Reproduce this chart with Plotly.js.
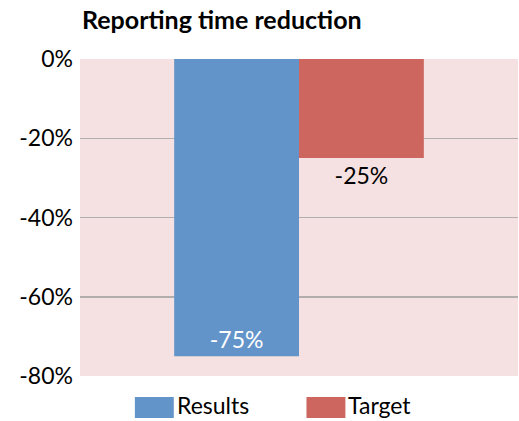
<!DOCTYPE html>
<html>
<head>
<meta charset="utf-8">
<script src="https://cdn.plot.ly/plotly-3.0.1.min.js"></script>
<style>
html,body{margin:0;padding:0;background:#fff;}
#chart{width:519px;height:421px;}
</style>
</head>
<body>
<div id="chart"></div>
<script>
const categories = ["Reporting time"];
const seriesNames = ["Results", "Target"];
const resultsValues = [-75];
const targetValues = [-25];
const yTickValues = [0, -20, -40, -60, -80];
const yTickLabels = ["0%", "-20%", "-40%", "-60%", "-80%"];

const colors = ["#6394c9", "#cd665f"];
const FONT = "Lato, 'Noto Sans', sans-serif";

const traces = [
  {
    type: "bar", name: seriesNames[0], x: categories, y: resultsValues,
    marker: {color: colors[0]},
    text: resultsValues.map(v => String(v) + "%"), textposition: "inside", insidetextanchor: "end",
    insidetextfont: {color: "#ffffff", size: 23, family: FONT},
    showlegend: false, hoverinfo: "skip"
  },
  {
    type: "bar", name: seriesNames[1], x: categories, y: targetValues,
    marker: {color: colors[1]},
    text: targetValues.map(v => String(v) + "%"), textposition: "outside",
    outsidetextfont: {color: "#000000", size: 23, family: FONT},
    showlegend: false, hoverinfo: "skip"
  }
];

// custom legend (large swatches)
const legendItems = [
  {name: seriesNames[0], color: colors[0], x0: 135, x1: 174, tx: 176},
  {name: seriesNames[1], color: colors[1], x0: 307, x1: 346, tx: 348}
];
const shapes = legendItems.map(it => ({
  type: "rect", xref: "paper", yref: "paper",
  x0: (it.x0 - 80) / 439, x1: (it.x1 - 80) / 439,
  y0: -(418 - 376) / 317, y1: -(397 - 376) / 317,
  fillcolor: it.color, line: {width: 0}
}));
const annotations = legendItems.map(it => ({
  text: it.name, xref: "paper", yref: "paper",
  x: (it.tx - 80) / 439, y: -(405 - 376) / 317,
  xanchor: "left", yanchor: "middle", showarrow: false,
  borderpad: 0,
  font: {size: 23, color: "#000", family: FONT}
}));

const layout = {
  width: 519, height: 421,
  margin: {l: 80, r: 1, t: 59, b: 45},
  paper_bgcolor: "#ffffff",
  plot_bgcolor: "#f5e1e1",
  font: {family: FONT, color: "#000"},
  title: {
    text: "<b>Reporting time reduction</b>",
    font: {size: 25, family: FONT, color: "#000"},
    xref: "container", yref: "container",
    x: 82 / 519, xanchor: "left",
    y: 1 - 20 / 421, yanchor: "middle"
  },
  barmode: "group", bargap: 0.43, bargroupgap: 0,
  xaxis: {showticklabels: false, showgrid: false, zeroline: false, showline: false, ticks: ""},
  yaxis: {
    range: [-80, 0], tickvals: yTickValues, ticktext: yTickLabels,
    showgrid: true, gridcolor: "#b2aeae", gridwidth: 1.5,
    zeroline: false, showline: false, ticks: "",
    tickfont: {size: 23, family: FONT, color: "#000"},
    ticklabelstandoff: 6
  },
  shapes: shapes,
  annotations: annotations
};

Plotly.newPlot("chart", traces, layout, {displayModeBar: false, staticPlot: true});
</script>
</body>
</html>
